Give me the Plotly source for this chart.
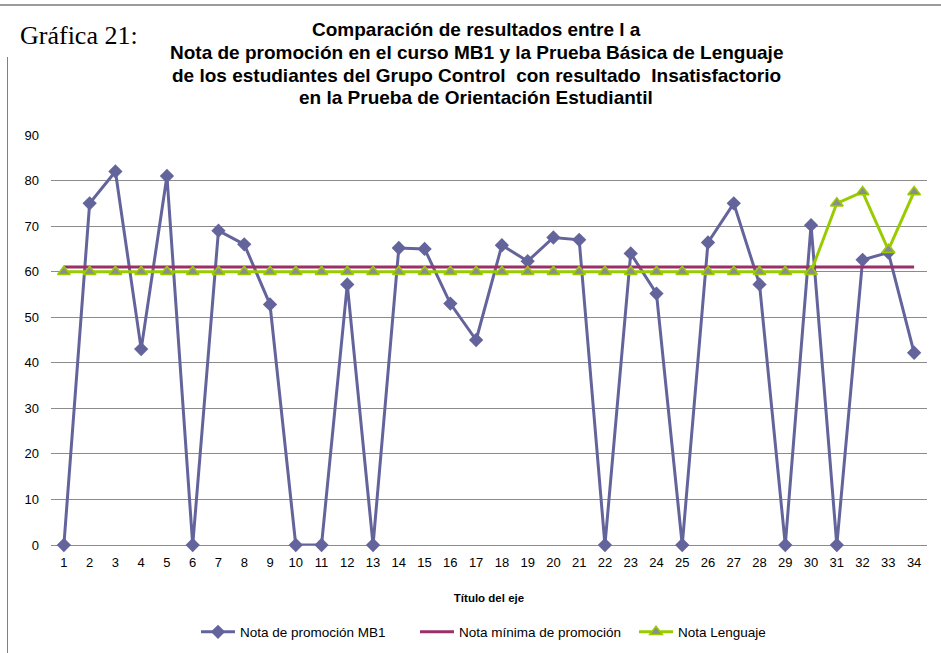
import plotly.graph_objects as go

categories = list(range(1, 35))
nota_mb1 = [0, 75, 82, 43, 81, 0, 69, 66, 52.8, 0, 0, 57.2, 0, 65.2, 65, 53, 45,
            65.8, 62.3, 67.5, 67, 0, 64, 55.2, 0, 66.4, 75, 57.2, 0, 70.2, 0, 62.6, 64.2, 42.2]
nota_minima = [61] * 34
nota_lenguaje = [60] * 30 + [75, 77.5, 64.8, 77.5]
y_ticks = [0, 10, 20, 30, 40, 50, 60, 70, 80, 90]

title_lines = [
    "Comparación de resultados entre l a",
    "Nota de promoción en el curso MB1 y la Prueba Básica de Lenguaje",
    "de los estudiantes del Grupo Control  con resultado  Insatisfactorio",
    "en la Prueba de Orientación Estudiantil",
]

fig = go.Figure()
fig.add_trace(go.Scatter(
    x=categories, y=nota_mb1, name="Nota de promoción MB1", mode="lines+markers",
    line=dict(color="#64649C", width=3),
    marker=dict(symbol="diamond", size=11, color="#64649C"),
    cliponaxis=False))
fig.add_trace(go.Scatter(
    x=categories, y=nota_minima, name="Nota mínima de promoción", mode="lines",
    line=dict(color="#9B3068", width=3), cliponaxis=False))
fig.add_trace(go.Scatter(
    x=categories, y=nota_lenguaje, name="Nota Lenguaje", mode="lines+markers",
    line=dict(color="#99CC00", width=3),
    marker=dict(symbol="triangle-up", size=11, color="#8C8C8C",
                line=dict(color="#99CC00", width=1.5)),
    cliponaxis=False))

font_sans = "Liberation Sans, Arial, sans-serif"
W_PLOT = 876
H_PLOT = 410
L, T = 51, 135


def px(x):
    return (x - L) / W_PLOT


def py(y):
    return 1 + (T - y) / H_PLOT


fig.update_layout(
    width=941, height=653,
    margin=dict(l=51, r=14, t=135, b=108, autoexpand=False),
    paper_bgcolor="white", plot_bgcolor="white",
    font=dict(family=font_sans, size=13, color="#000000"),
    showlegend=True,
    legend=dict(orientation="h", x=px(196), xanchor="left", y=py(632), yanchor="middle",
                font=dict(size=13.5, family=font_sans), itemwidth=34,
                entrywidth=170, entrywidthmode="pixels",
                traceorder="normal"),
    xaxis=dict(range=[0.5, 34.5], tickmode="array", tickvals=categories,
               ticktext=[str(c) for c in categories], showgrid=False,
               showline=False, zeroline=False, ticks="", automargin=False,
               tickfont=dict(size=13), ticklabelstandoff=8,
               title=dict(text="<b>Título del eje</b>", font=dict(size=11.5), standoff=24)),
    yaxis=dict(range=[0, 90], tickmode="array", tickvals=y_ticks, automargin=False,
               showgrid=True, gridcolor="#8C8C8C", gridwidth=1,
               zeroline=True, zerolinecolor="#8C8C8C", zerolinewidth=1,
               showline=False, ticks="", tickfont=dict(size=13), ticklabelstandoff=11),
)

# frame lines
fig.add_shape(type="line", xref="paper", yref="paper", x0=px(0), x1=px(941),
              y0=py(5), y1=py(5), layer="above",
              line=dict(color="#7A7A7A", width=1.5))
fig.add_shape(type="line", xref="paper", yref="paper", x0=px(7.5), x1=px(7.5),
              y0=py(653), y1=py(57), line=dict(color="#808080", width=1))

title_y = [29, 52, 75, 98]
for txt, yy in zip(title_lines, title_y):
    fig.add_annotation(text=f"<b>{txt}</b>", xref="paper", yref="paper",
                       x=px(476), y=py(yy), xanchor="center", yanchor="middle",
                       showarrow=False, font=dict(size=19, family=font_sans))

fig.add_annotation(text="Gráfica 21:", xref="paper", yref="paper",
                   x=px(18), y=py(35), xanchor="left", yanchor="middle",
                   showarrow=False, bgcolor="white",
                   font=dict(size=26, family="Liberation Serif, Times New Roman, serif"))

fig.write_html("out.html", config={"displayModeBar": False},
               post_script="document.body.style.margin='0';")
